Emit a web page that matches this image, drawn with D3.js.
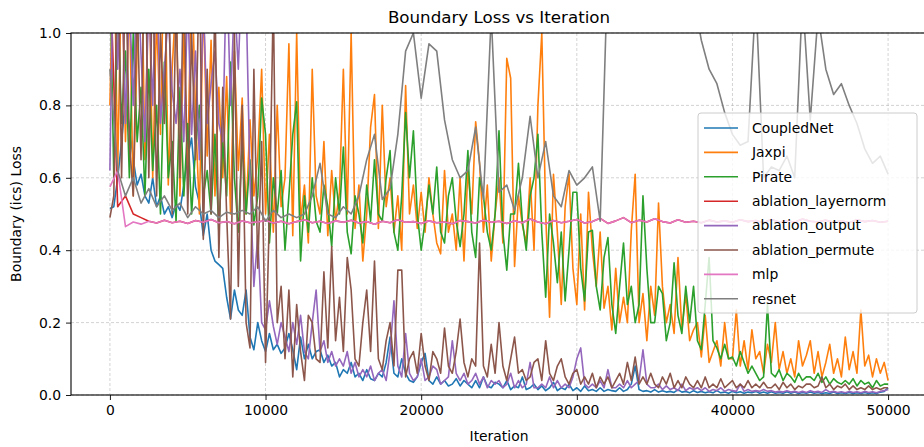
<!DOCTYPE html>
<html>
<head>
<meta charset="utf-8">
<script src="https://cdn.jsdelivr.net/npm/d3@7"></script>
<style>
  body { margin: 0; background: #fff; }
  text { font-family: "DejaVu Sans", sans-serif; fill: #000; }
</style>
</head>
<body>
<div id="chart"></div>
<script>
var width = 924;
var height = 447;
var margin = {top: 33, left: 71, right: -3, bottom: 52};

// logged iterations: the noisy runs every 250 steps, the smooth ones every 500
var iterFine = d3.range(0, 50001, 250);
var iterCoarse = d3.range(0, 50001, 500);

var xTicks = [0, 10000, 20000, 30000, 40000, 50000];
var yTicks = [0, 0.2, 0.4, 0.6, 0.8, 1.0];

var seriesNames = ["CoupledNet", "Jaxpi", "Pirate", "ablation_layernorm", "ablation_output", "ablation_permute", "mlp", "resnet"];
var seriesColors = ["#1f77b4", "#ff7f0e", "#2ca02c", "#d62728", "#9467bd", "#8c564b", "#e377c2", "#7f7f7f"];

var coupledNet = [
  0.515, 0.52, 0.6, 0.7, 0.82, 0.74, 0.65, 0.58, 0.61, 0.55,
  0.53, 0.6, 0.52, 0.55, 0.5, 0.52, 0.49, 0.53, 0.51, 0.58,
  0.66, 0.71, 0.575, 0.53, 0.44, 0.5, 0.4, 0.37, 0.36, 0.35,
  0.27, 0.21, 0.29, 0.235, 0.22, 0.29, 0.16, 0.125, 0.2, 0.15,
  0.12, 0.17, 0.125, 0.14, 0.115, 0.13, 0.17, 0.125, 0.07, 0.16,
  0.1, 0.14, 0.1, 0.12, 0.125, 0.09, 0.11, 0.08, 0.09, 0.05,
  0.07, 0.06, 0.09, 0.05, 0.06, 0.04, 0.07, 0.045, 0.04, 0.06,
  0.05, 0.09, 0.16, 0.06, 0.05, 0.1, 0.06, 0.04, 0.035, 0.05,
  0.09, 0.115, 0.04, 0.03, 0.05, 0.03, 0.04, 0.025, 0.03, 0.045,
  0.025, 0.04, 0.03, 0.02, 0.04, 0.02, 0.05, 0.025, 0.02, 0.035,
  0.03, 0.02, 0.04, 0.015, 0.025, 0.02, 0.05, 0.015, 0.02, 0.03,
  0.015, 0.025, 0.012, 0.02, 0.035, 0.012, 0.02, 0.015, 0.03, 0.012,
  0.02, 0.01, 0.025, 0.012, 0.015, 0.01, 0.02, 0.01, 0.015, 0.012,
  0.01, 0.02, 0.01, 0.015, 0.03, 0.08, 0.015, 0.01, 0.012, 0.008,
  0.015, 0.008, 0.012, 0.008, 0.01, 0.007, 0.015, 0.008, 0.01, 0.006,
  0.012, 0.007, 0.01, 0.006, 0.009, 0.006, 0.012, 0.006, 0.008, 0.005,
  0.01, 0.006, 0.009, 0.005, 0.008, 0.006, 0.01, 0.005, 0.008, 0.005,
  0.009, 0.005, 0.007, 0.005, 0.009, 0.005, 0.008, 0.004, 0.007, 0.005,
  0.008, 0.005, 0.007, 0.004, 0.006, 0.004, 0.008, 0.004, 0.006, 0.004,
  0.007, 0.004, 0.006, 0.004, 0.007, 0.004, 0.006, 0.004, 0.008, 0.01,
  0.02
];

var jaxpi = [
  0.8, 1.3, 0.62, 1.2, 0.7, 1.1, 0.55, 0.95, 1.3, 0.65,
  1.2, 0.6, 1.05, 0.72, 1.3, 0.58, 0.9, 1.1, 0.55, 1.0,
  0.62, 1.2, 0.78, 0.5, 1.1, 0.66, 0.98, 0.55, 0.85, 0.6,
  0.88, 0.5, 0.95, 0.62, 0.82, 0.5, 0.76, 0.55, 0.66, 0.9,
  0.5, 0.72, 0.45, 0.8, 0.52, 0.6, 0.97, 0.44, 1.0, 0.48,
  0.58, 0.42, 0.9, 0.55, 0.5, 0.7, 0.44, 0.62, 0.48, 0.56,
  0.9, 0.5, 1.0, 0.46, 0.58, 0.37, 0.5, 0.74, 0.83, 0.46,
  0.8, 0.52, 0.6, 0.45, 0.55, 0.4, 0.855, 0.5, 0.58, 0.46,
  0.56, 0.45, 0.6, 0.5, 0.42, 0.39, 0.62, 0.45, 0.5, 0.4,
  0.6, 0.37, 0.62, 0.5, 0.755, 0.64, 0.45, 0.58, 0.37, 0.5,
  0.6, 0.42, 0.93, 0.875, 0.355, 0.55, 0.47, 0.42, 0.6, 0.4,
  0.8, 1.0, 0.5, 0.215, 0.61, 0.45, 0.25, 0.52, 0.61, 0.35,
  0.25, 0.5, 0.235, 0.56, 0.4, 0.3, 0.45, 0.24, 0.3, 0.18,
  0.35, 0.2, 0.27, 0.2, 0.455, 0.61, 0.2, 0.28, 0.15, 0.3,
  0.22, 0.53, 0.3, 0.2, 0.25, 0.17, 0.38, 0.18, 0.28, 0.15,
  0.18, 0.2, 0.105, 0.22, 0.09, 0.12, 0.15, 0.08, 0.2, 0.1,
  0.1, 0.235, 0.08, 0.15, 0.07, 0.18, 0.1, 0.12, 0.06, 0.14,
  0.09, 0.2, 0.07, 0.12, 0.06, 0.1, 0.05, 0.15, 0.08, 0.11,
  0.15, 0.06, 0.12, 0.05, 0.09, 0.14, 0.06, 0.1, 0.05, 0.16,
  0.07, 0.12, 0.06, 0.235, 0.08, 0.11, 0.05, 0.1, 0.06, 0.09,
  0.04
];

var pirate = [
  1.2, 0.6, 1.1, 0.75, 0.95, 0.6, 1.0, 0.7, 0.85, 0.55,
  0.9, 0.62, 0.8, 0.5, 0.92, 0.6, 0.7, 0.48, 0.85, 0.55,
  0.75, 0.5, 0.68, 0.8, 0.55, 0.62, 0.5, 0.72, 0.45, 0.7,
  0.55, 0.92, 0.6, 0.45, 0.7, 0.5, 0.65, 0.47, 0.55, 0.82,
  0.72, 0.42, 0.6, 0.5, 0.62, 0.4, 0.55, 0.72, 0.81, 0.37,
  0.55, 0.45, 0.6, 0.48, 0.45, 0.58, 0.52, 0.41, 0.6, 0.5,
  0.685, 0.45, 0.39, 0.55, 0.5, 0.42, 0.58, 0.48, 0.65, 0.5,
  0.48, 0.6, 0.675, 0.45, 0.4, 0.55, 0.78, 0.6, 0.73, 0.5,
  0.4, 0.48, 0.58, 0.5, 0.63, 0.45, 0.42, 0.55, 0.6, 0.48,
  0.41, 0.5, 0.675, 0.45, 0.38, 0.6, 0.55, 0.45, 0.4, 0.5,
  0.73, 0.45, 0.345, 0.5, 0.5, 0.64, 0.48, 0.4, 0.55, 0.6,
  0.72, 0.45, 0.27, 0.5, 0.42, 0.31, 0.45, 0.26, 0.4, 0.56,
  0.56, 0.35, 0.26, 0.45, 0.455, 0.3, 0.235, 0.38, 0.435, 0.25,
  0.17, 0.3, 0.42, 0.25, 0.3, 0.2, 0.25, 0.55, 0.35, 0.2,
  0.2, 0.3, 0.28, 0.15, 0.2, 0.365, 0.22, 0.17, 0.3, 0.2,
  0.3, 0.15, 0.125, 0.25, 0.38, 0.15, 0.13, 0.1, 0.14, 0.1,
  0.105, 0.08, 0.12, 0.09, 0.06, 0.08, 0.06, 0.04, 0.05, 0.25,
  0.06, 0.05, 0.07, 0.04, 0.06, 0.05, 0.035, 0.06, 0.04, 0.05,
  0.05, 0.04, 0.06, 0.035, 0.05, 0.03, 0.045, 0.035, 0.03, 0.04,
  0.03, 0.045, 0.025, 0.04, 0.03, 0.035, 0.02, 0.04, 0.025, 0.03,
  0.03
];

var ablationOutput = [
  0.62, 1.3, 0.9, 1.2, 0.75, 1.1, 0.8, 1.2, 0.94, 0.7,
  1.1, 0.8, 1.2, 0.75, 0.9, 1.05, 0.84, 0.75, 0.9, 0.7,
  1.1, 0.72, 0.95, 0.65, 1.1, 0.75, 0.86, 0.95, 0.75, 0.7,
  1.2, 0.8, 1.1, 0.9, 1.2, 1.1, 0.6, 0.3, 0.44, 0.2,
  0.18, 0.26, 0.19, 0.14, 0.2, 0.16, 0.12, 0.2, 0.14, 0.22,
  0.12, 0.1, 0.2, 0.29, 0.12, 0.15, 0.09, 0.12, 0.08, 0.1,
  0.08, 0.12, 0.06, 0.09, 0.05, 0.07, 0.05, 0.08, 0.04, 0.06,
  0.07, 0.04, 0.12, 0.26, 0.08, 0.05, 0.17, 0.06, 0.04, 0.05,
  0.1, 0.04, 0.05, 0.08, 0.07, 0.03, 0.04, 0.05, 0.15, 0.06,
  0.04, 0.06, 0.03, 0.04, 0.06, 0.03, 0.05, 0.02, 0.04, 0.03,
  0.04, 0.02, 0.03, 0.06, 0.02, 0.04, 0.02, 0.03, 0.09, 0.02,
  0.02, 0.03, 0.02, 0.05, 0.02, 0.04, 0.02, 0.03, 0.02, 0.05,
  0.1, 0.13, 0.03, 0.02, 0.03, 0.02, 0.04, 0.02, 0.07, 0.02,
  0.02, 0.03, 0.02, 0.04, 0.02, 0.03, 0.04, 0.125, 0.03, 0.02,
  0.02, 0.03, 0.015, 0.025, 0.015, 0.02, 0.012, 0.03, 0.012, 0.02,
  0.015, 0.02, 0.012, 0.02, 0.01, 0.015, 0.012, 0.02, 0.01, 0.015,
  0.012, 0.01, 0.03, 0.01, 0.015, 0.01, 0.012, 0.01, 0.015, 0.01,
  0.012, 0.008, 0.01, 0.008, 0.012, 0.008, 0.01, 0.007, 0.01, 0.007,
  0.012, 0.008, 0.01, 0.007, 0.015, 0.008, 0.01, 0.007, 0.009, 0.006,
  0.01, 0.007, 0.009, 0.006, 0.01, 0.007, 0.009, 0.006, 0.01, 0.012,
  0.015
];

var ablationPermute = [
  0.49, 0.55, 1.3, 0.6, 1.2, 0.7, 0.55, 1.1, 0.65, 1.3,
  0.6, 1.2, 0.55, 1.0, 0.75, 1.3, 0.5, 1.1, 0.6, 1.2,
  0.5, 1.0, 0.65, 1.2, 0.43, 0.9, 0.5, 1.1, 0.38, 0.85,
  0.5, 0.21, 1.0, 0.3, 0.8, 0.2, 0.13, 0.9, 0.35, 0.7,
  0.09, 0.5, 1.1, 0.2, 0.3, 0.1, 0.29, 0.05, 0.25, 0.12,
  0.04, 0.22, 0.2, 0.1, 0.09, 0.34, 0.13, 0.41, 0.15, 0.27,
  0.12, 0.38, 0.29, 0.1, 0.08, 0.2, 0.29, 0.12, 0.37, 0.1,
  0.07, 0.15, 0.2, 0.08, 0.345, 0.345, 0.05, 0.1, 0.12, 0.06,
  0.17, 0.08, 0.04, 0.12, 0.1, 0.06, 0.185, 0.08, 0.06, 0.12,
  0.21, 0.09, 0.05, 0.1, 0.08, 0.42, 0.08, 0.05, 0.14, 0.06,
  0.2, 0.08, 0.04, 0.1, 0.16, 0.06, 0.07, 0.04, 0.05, 0.09,
  0.1, 0.04, 0.15, 0.06, 0.04, 0.08, 0.1, 0.05, 0.03, 0.06,
  0.07, 0.03, 0.05, 0.03, 0.06, 0.02, 0.05, 0.03, 0.05, 0.02,
  0.04, 0.06, 0.03, 0.09, 0.04, 0.105, 0.03, 0.05, 0.03, 0.06,
  0.03, 0.02, 0.05, 0.03, 0.06, 0.02, 0.04, 0.02, 0.05, 0.03,
  0.02, 0.04, 0.02, 0.05, 0.02, 0.03, 0.02, 0.045, 0.02, 0.03,
  0.04, 0.02, 0.03, 0.02, 0.04, 0.02, 0.03, 0.02, 0.035, 0.02,
  0.02, 0.03, 0.015, 0.035, 0.02, 0.03, 0.015, 0.025, 0.02, 0.03,
  0.03, 0.02, 0.025, 0.05, 0.02, 0.03, 0.015, 0.025, 0.02, 0.03,
  0.015, 0.025, 0.015, 0.02, 0.015, 0.025, 0.015, 0.02, 0.015, 0.02,
  0.02
];

var mlp = [
  0.575, 0.62, 0.465, 0.478, 0.472, 0.48, 0.475, 0.483, 0.476, 0.48,
  0.474, 0.482, 0.477, 0.485, 0.476, 0.479, 0.473, 0.481, 0.476, 0.478,
  0.482, 0.475, 0.48, 0.473, 0.479, 0.484, 0.476, 0.48, 0.474, 0.481,
  0.477, 0.483, 0.475, 0.479, 0.472, 0.48, 0.476, 0.484, 0.477, 0.479,
  0.474, 0.481, 0.476, 0.478, 0.473, 0.482, 0.479, 0.475, 0.483, 0.477,
  0.48, 0.474, 0.481, 0.476, 0.486, 0.478, 0.473, 0.482, 0.476, 0.48,
  0.485, 0.475, 0.479, 0.488, 0.474, 0.481, 0.49, 0.476, 0.483, 0.478,
  0.487, 0.479, 0.475, 0.484, 0.477, 0.48, 0.476, 0.483, 0.478, 0.481,
  0.477, 0.484, 0.479, 0.482, 0.476, 0.485, 0.478, 0.481, 0.477, 0.486,
  0.48, 0.478, 0.483, 0.477, 0.481, 0.476, 0.484, 0.479, 0.482, 0.477,
  0.48
];

// mostly hidden under mlp after the first couple of thousand steps
var ablationLayernorm = [
  1.2, 0.52, 0.55, 0.5, 0.49, 0.48, 0.475, 0.483, 0.476, 0.48,
  0.474, 0.482, 0.477, 0.485, 0.476, 0.479, 0.473, 0.481, 0.476, 0.478,
  0.482, 0.475, 0.48, 0.473, 0.479, 0.484, 0.476, 0.48, 0.474, 0.481,
  0.477, 0.483, 0.475, 0.479, 0.472, 0.48, 0.476, 0.484, 0.477, 0.479,
  0.474, 0.481, 0.476, 0.478, 0.473, 0.482, 0.479, 0.475, 0.483, 0.477,
  0.48, 0.474, 0.481, 0.476, 0.486, 0.478, 0.473, 0.482, 0.476, 0.48,
  0.485, 0.475, 0.479, 0.488, 0.474, 0.481, 0.49, 0.476, 0.483, 0.478,
  0.487, 0.479, 0.475, 0.484, 0.477, 0.48, 0.476, 0.483, 0.478, 0.481,
  0.477, 0.484, 0.479, 0.482, 0.476, 0.485, 0.478, 0.481, 0.477, 0.486,
  0.48, 0.478, 0.483, 0.477, 0.481, 0.476, 0.484, 0.479, 0.482, 0.477,
  0.48
];

var resnet = [
  0.9, 0.62, 0.55, 0.6, 0.53, 0.57, 0.52, 0.55, 0.51, 0.53,
  0.49, 0.52, 0.5, 0.51, 0.49, 0.505, 0.5, 0.51, 0.5, 0.52,
  0.48, 0.51, 0.49, 0.5, 0.49, 0.5, 0.55, 0.64, 0.5, 0.49,
  0.52, 0.5, 0.55, 0.65, 0.72, 0.54, 0.57, 0.72, 0.95, 1.0,
  0.82, 0.97, 0.95, 0.76, 0.65, 0.6, 0.62, 0.74, 0.54, 1.05,
  0.56, 0.58, 0.51, 0.6, 0.77, 0.6, 0.7, 0.55, 0.52, 0.62,
  0.58, 0.6, 0.63, 0.48, 1.2, 1.25, 1.3, 1.2, 1.15, 1.25,
  1.3, 1.2, 1.25, 1.15, 1.2, 1.1, 0.98, 0.9, 0.86, 0.78,
  0.72, 0.69, 0.7, 1.1, 0.6, 0.63, 0.62, 0.66, 0.6, 1.1,
  0.76, 1.05, 0.9, 0.83, 0.86, 0.8, 0.75, 0.68, 0.64, 0.66,
  0.61
];

var seriesValues = [coupledNet, jaxpi, pirate, ablationLayernorm, ablationOutput, ablationPermute, mlp, resnet];
var seriesIters = [iterFine, iterFine, iterFine, iterCoarse, iterFine, iterFine, iterCoarse, iterCoarse];

var svg = d3.select("#chart")
  .append("svg")
  .attr("width", width)
  .attr("height", height);

var xScale = d3.scaleLinear()
  .domain([-2500, 52500])
  .range([margin.left, width - margin.right]);

var yScale = d3.scaleLinear()
  .domain([0, 1])
  .range([height - margin.bottom, margin.top]);

svg.append("defs").append("clipPath")
  .attr("id", "plotArea")
  .append("rect")
    .attr("x", margin.left)
    .attr("y", margin.top)
    .attr("width", width - margin.right - margin.left)
    .attr("height", height - margin.bottom - margin.top);

// dashed grid
var grid = svg.append("g").attr("class", "grid");
grid.selectAll(".vgrid")
  .data(xTicks)
  .enter()
  .append("line")
    .attr("x1", function(d) { return xScale(d); })
    .attr("x2", function(d) { return xScale(d); })
    .attr("y1", margin.top)
    .attr("y2", height - margin.bottom)
    .attr("stroke", "#b0b0b0")
    .attr("stroke-opacity", 0.7)
    .attr("stroke-width", 0.8)
    .attr("stroke-dasharray", "3,2");
grid.selectAll(".hgrid")
  .data(yTicks)
  .enter()
  .append("line")
    .attr("x1", margin.left)
    .attr("x2", width - margin.right)
    .attr("y1", function(d) { return yScale(d); })
    .attr("y2", function(d) { return yScale(d); })
    .attr("stroke", "#b0b0b0")
    .attr("stroke-opacity", 0.7)
    .attr("stroke-width", 0.8)
    .attr("stroke-dasharray", "3,2");

var lines = svg.append("g").attr("clip-path", "url(#plotArea)");
seriesValues.forEach(function(vals, k) {
  var its = seriesIters[k];
  var line = d3.line()
    .x(function(d, i) { return xScale(its[i]); })
    .y(function(d) { return yScale(d); });
  lines.append("path")
    .datum(vals)
    .attr("d", line)
    .attr("fill", "none")
    .attr("stroke", seriesColors[k])
    .attr("stroke-width", 1.6)
    .attr("stroke-linejoin", "round");
});

// axes
var xAxis = svg.append("g")
  .attr("transform", `translate(0,${height - margin.bottom})`)
  .call(d3.axisBottom(xScale).tickValues(xTicks).tickFormat(d3.format("d")).tickSizeOuter(0).tickSize(5).tickPadding(5));

var yAxis = svg.append("g")
  .attr("transform", `translate(${margin.left},0)`)
  .call(d3.axisLeft(yScale).tickValues(yTicks).tickFormat(d3.format(".1f")).tickSizeOuter(0).tickSize(5).tickPadding(5));

[xAxis, yAxis].forEach(function(a) {
  a.select(".domain").remove();
  a.selectAll("line").attr("stroke", "#000").attr("stroke-width", 0.9);
  a.selectAll("text").style("font-size", "13.9px").style("font-family", "DejaVu Sans, sans-serif");
});

// frame
svg.append("rect")
  .attr("x", margin.left)
  .attr("y", margin.top)
  .attr("width", width - margin.right - margin.left)
  .attr("height", height - margin.bottom - margin.top)
  .attr("fill", "none")
  .attr("stroke", "#000")
  .attr("stroke-width", 1.1);

svg.append("text")
  .attr("x", (margin.left + width - margin.right) / 2)
  .attr("y", 23)
  .attr("text-anchor", "middle")
  .style("font-size", "16.7px")
  .text("Boundary Loss vs Iteration");

svg.append("text")
  .attr("x", (margin.left + width - margin.right) / 2)
  .attr("y", 441)
  .attr("text-anchor", "middle")
  .style("font-size", "13.9px")
  .text("Iteration");

svg.append("text")
  .attr("transform", `translate(21,${(margin.top + height - margin.bottom) / 2}) rotate(-90)`)
  .attr("text-anchor", "middle")
  .style("font-size", "13.9px")
  .text("Boundary (ics) Loss");

// legend
var legend = svg.append("g").attr("transform", "translate(698,113)");
legend.append("rect")
  .attr("width", 219)
  .attr("height", 200)
  .attr("rx", 3)
  .attr("fill", "#fff")
  .attr("fill-opacity", 0.8)
  .attr("stroke", "#cccccc");

var entry = legend.selectAll(".entry")
  .data(seriesNames)
  .enter()
  .append("g")
    .attr("transform", function(d, i) { return `translate(0,${15 + i * 24.4})`; });
entry.append("line")
  .attr("x1", 6)
  .attr("x2", 40)
  .attr("stroke", function(d, i) { return seriesColors[i]; })
  .attr("stroke-width", 1.6);
entry.append("text")
  .attr("x", 54)
  .attr("dy", "0.35em")
  .style("font-size", "13.9px")
  .text(function(d) { return d; });
</script>
</body>
</html>
